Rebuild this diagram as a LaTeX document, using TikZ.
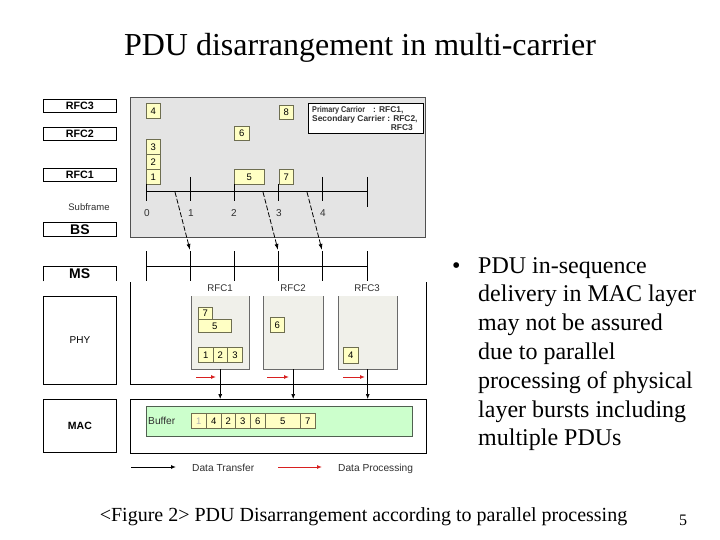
\documentclass[tikz,border=0pt]{standalone}
\usepackage{fontspec}
\setmainfont{Liberation Serif}
\setsansfont{Liberation Sans}
\usetikzlibrary{arrows.meta}
\newcommand\myfs[1]{\fontsize{#1}{#1}\selectfont}
\definecolor{upgray}{HTML}{E4E4E4}
\definecolor{upbord}{HTML}{505050}
\definecolor{pduyel}{HTML}{FFFFC4}
\definecolor{pdubord}{HTML}{6E6E50}
\definecolor{phyfill}{HTML}{F0F0EA}
\definecolor{phybord}{HTML}{6A6A6A}
\definecolor{bufgreen}{HTML}{CCFFCC}
\definecolor{bufbord}{HTML}{506050}
\definecolor{arrred}{HTML}{D82020}
\definecolor{txtgray}{HTML}{303030}
\begin{document}
\begin{tikzpicture}[x=1pt,y=-1pt,
  sz/.style 2 args={minimum width=#1pt, minimum height=#2pt},
  lblbox/.style={draw=black, line width=0.9pt, anchor=north west, inner sep=0pt, font=\sffamily\bfseries\myfs{10.7}},
  pdu/.style={draw=pdubord, fill=pduyel, line width=0.6pt, anchor=north west, inner sep=0pt, font=\sffamily\myfs{9.5}},
  upanel/.style={draw=upbord, fill=upgray, line width=1pt, anchor=north west, inner sep=0pt},
  frame/.style={draw=black, line width=1pt},
  tline/.style={draw=black, line width=1pt},
  ticklbl/.style={font=\sffamily\myfs{10}, text=txtgray},
  rfcl/.style={font=\sffamily\myfs{9.7}, text=txtgray},
  phyp/.style={fill=phyfill, anchor=north west, inner sep=0pt},
  phyedge/.style={draw=phybord, line width=0.8pt},
  dasharr/.style={draw=black, line width=0.8pt, dash pattern=on 5pt off 2pt, -{Latex[length=6pt,width=4pt]}},
  xfer/.style={draw=black, line width=0.7pt, -{Latex[length=5pt,width=4pt]}},
  redarr/.style={draw=arrred, line width=1pt, -{Latex[length=5pt,width=4pt]}},
  legt/.style={font=\sffamily\myfs{10.2}, text=txtgray, anchor=base west, inner sep=0pt},
  bul/.style={font=\myfs{24}, anchor=base west, inner sep=0pt}
]
\useasboundingbox[fill=white] (0,0) rectangle (720,540);

% title
\node[font=\myfs{32}, anchor=base] (title) at (360,56) {PDU disarrangement in multi-carrier};

% left labels
\node[lblbox, sz={73}{13}] (lrfc3) at (43,99) {RFC3};
\node[lblbox, sz={73}{13}] (lrfc2) at (43,127) {RFC2};
\node[lblbox, sz={73}{13}] (lrfc1) at (43,168) {RFC1};
\node[font=\sffamily\myfs{9.5}, text=txtgray] (subf) at (89,207) {Subframe};
\node[lblbox, sz={73}{14}, font=\sffamily\bfseries\myfs{14}] (bs) at (43,222) {BS};
\node[anchor=north west, inner sep=0pt, sz={73}{15}, font=\sffamily\bfseries\myfs{14}] (ms) at (43,266) {MS};
\draw[draw=black, line width=0.9pt] (ms.south west) -- (ms.north west) -- (ms.north east) -- (ms.south east);
\node[lblbox, sz={73}{88}, font=\sffamily\myfs{10}] (phy) at (43,296) {PHY};
\node[lblbox, sz={73}{53}, font=\sffamily\bfseries\myfs{10.5}] (maclbl) at (43,399) {MAC};

% upper BS panel
\node[upanel, sz={295}{140}] (bsp) at (130,97) {};
\node[pdu, sz={14}{15}] (u4) at (146,103) {4};
\node[pdu, sz={14}{15}] (u3) at (146,139) {3};
\node[pdu, sz={14}{15}] (u2) at (146,154) {2};
\node[pdu, sz={14}{15}] (u1) at (146,169) {1};
\node[pdu, sz={15}{14}] (u6) at (234,126) {6};
\node[pdu, sz={14}{14}] (u8) at (279,105) {8};
\node[pdu, sz={30}{15}] (u5) at (234,169) {5};
\node[pdu, sz={14}{15}] (u7) at (279,169) {7};

\node[draw=black, fill=white, line width=0.8pt, anchor=north west, inner sep=0pt, sz={115}{30}] (leg) at (308,103) {};
\begin{scope}[every node/.style={font=\sffamily\bfseries\myfs{8.4}, text=txtgray, inner sep=0pt}]
\node[anchor=base west] (lg1a) at (312,113) {\scalebox{0.86}[1]{Primary Carrior}};
\node[anchor=base west] (lg1b) at (373,113) {: RFC1,};
\node[anchor=base west] (lg2) at (312,122) {Secondary Carrier : RFC2,};
\node[anchor=base east] (lg3) at (413,131) {RFC3};
\end{scope}

% BS timeline
\draw[tline] (146,192) -- (367,192);
\draw[tline] (146,184) -- (146,201);
\draw[tline] (190,177) -- (190,201);
\draw[tline] (234,184) -- (234,201);
\draw[tline] (278,184) -- (278,201);
\draw[tline] (322,177) -- (322,201);
\draw[tline] (367,177) -- (367,207);
\node[ticklbl] (t0) at (147,213) {0};
\node[ticklbl] (t1) at (191,213) {1};
\node[ticklbl] (t2) at (234,213) {2};
\node[ticklbl] (t3) at (279,213) {3};
\node[ticklbl] (t4) at (323,213) {4};

% MS timeline
\draw[tline] (146,266) -- (367,266);
\foreach \xx in {146,190,234,278,322,367} \draw[tline] (\xx,251) -- (\xx,281);

% dashed transfer arrows
\coordinate (s1) at (175,192); \coordinate (e1) at (190,250);
\coordinate (s2) at (263,192); \coordinate (e2) at (278,250);
\coordinate (s3) at (307,192); \coordinate (e3) at (322,250);
\draw[dasharr] (s1) -- (e1);
\draw[dasharr] (s2) -- (e2);
\draw[dasharr] (s3) -- (e3);

% PHY frame
\node[anchor=north west, inner sep=0pt, sz={296}{102}] (phyf) at (130,282) {};
\draw[frame] (phyf.north west) -- (phyf.south west) -- (phyf.south east) -- (phyf.north east);

\node[rfcl] (r1) at (220,288) {RFC1};
\node[rfcl] (r2) at (293,288) {RFC2};
\node[rfcl] (r3) at (367,288) {RFC3};

\node[phyp, sz={58}{73}] (p1) at (191,296) {};
\node[phyp, sz={60}{73}] (p2) at (263,296) {};
\node[phyp, sz={59}{73}] (p3) at (338,296) {};
\foreach \p in {p1,p2,p3}
  \draw[phyedge] (\p.north west) -- (\p.south west) -- (\p.south east) -- (\p.north east);

\node[pdu, sz={14}{12}] (q7) at (198,307) {7};
\node[pdu, sz={33}{13}] (q5) at (198,319) {5};
\node[pdu, sz={14.7}{15}] (q1) at (198,347) {1};
\node[pdu, sz={14.7}{15}] (q2) at (212.7,347) {2};
\node[pdu, sz={14.7}{15}] (q3) at (227.4,347) {3};
\node[pdu, sz={14}{15}] (q6) at (270,317) {6};
\node[pdu, sz={15}{16}] (q4) at (343,347) {4};

% red processing arrows
\coordinate (ra1) at (196,377); \coordinate (rb1) at (216,377);
\coordinate (ra2) at (267,377); \coordinate (rb2) at (289,377);
\coordinate (ra3) at (343,377); \coordinate (rb3) at (365,377);
\draw[redarr] (ra1) -- (rb1);
\draw[redarr] (ra2) -- (rb2);
\draw[redarr] (ra3) -- (rb3);

% MAC frame
\node[draw=black, line width=1pt, anchor=north west, inner sep=0pt, sz={296}{54}] (mac) at (130,399) {};
\node[draw=bufbord, fill=bufgreen, line width=0.8pt, anchor=north west, inner sep=0pt, sz={266}{30}] (buf) at (146,406) {};
\node[font=\sffamily\myfs{10.2}, text=txtgray, anchor=base west, inner sep=0pt] (buft) at (148,424) {Buffer};
\node[pdu, sz={15}{15}, text=gray!60] (m1) at (191,413) {1};
\node[pdu, sz={15}{15}] (m4) at (206,413) {4};
\node[pdu, sz={14}{15}] (m2) at (221,413) {2};
\node[pdu, sz={15}{15}] (m3) at (235,413) {3};
\node[pdu, sz={15}{15}] (m6) at (250,413) {6};
\node[pdu, sz={35}{15}] (m5) at (265,413) {5};
\node[pdu, sz={15}{15}] (m7) at (300,413) {7};

% data transfer PHY -> MAC
\draw[xfer] (p1.south) -- (p1.south |- mac.north);
\draw[xfer] (p2.south) -- (p2.south |- mac.north);
\draw[xfer] (p3.south) -- (p3.south |- mac.north);

% legend
\coordinate (la1) at (131,467); \coordinate (la2) at (176,467);
\draw[xfer, line width=1pt] (la1) -- (la2);
\node[legt] (dt) at (192,471) {Data Transfer};
\coordinate (lb1) at (278,467); \coordinate (lb2) at (322,467);
\draw[redarr] (lb1) -- (lb2);
\node[legt] (dp) at (338,471) {Data Processing};

% bullet text
\node[bul] (dot) at (452,273) {•};
\foreach \t [count=\i from 0] in {PDU in-sequence,delivery in MAC layer,may not be assured,due to parallel,processing of physical,layer bursts including,multiple PDUs}
  \node[bul] (bl\i) at (478,273+28.8*\i) {\t};

% caption
\node[font=\myfs{20}, anchor=base] (cap) at (363.5,521) {<Figure 2> PDU Disarrangement according to parallel processing};
\node[font=\myfs{16}, anchor=base] (pg) at (683,525) {5};
\end{tikzpicture}
\end{document}
